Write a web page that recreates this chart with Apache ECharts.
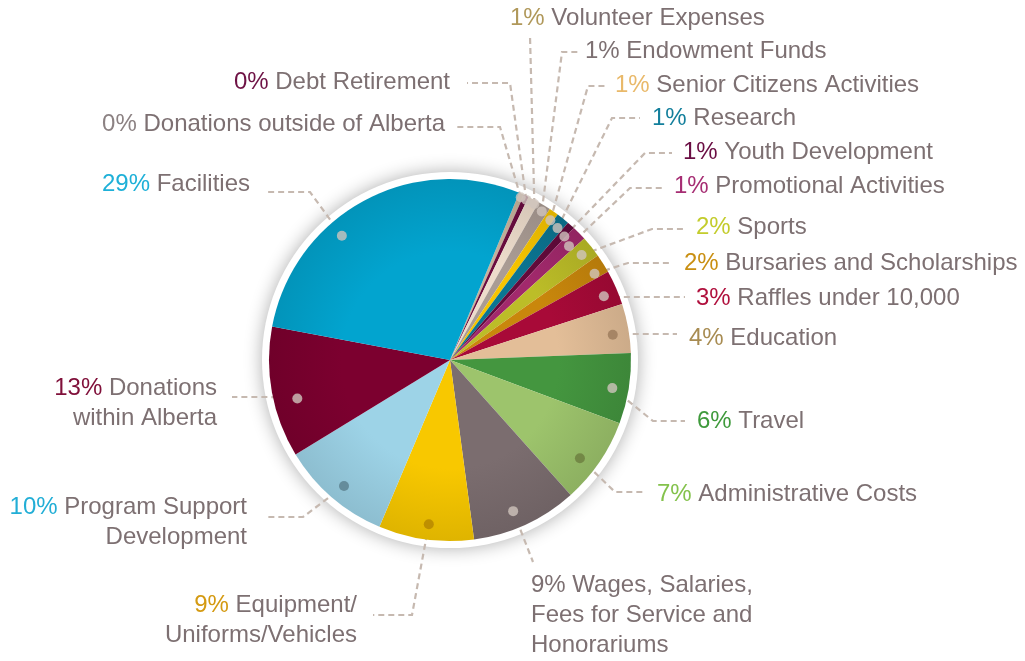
<!DOCTYPE html>
<html>
<head>
<meta charset="utf-8">
<script src="https://cdn.jsdelivr.net/npm/echarts@6/dist/echarts.min.js"></script>
<style>
  html, body { margin: 0; padding: 0; background: #fff; }
  #chart { width: 1025px; height: 661px; }
</style>
</head>
<body>
<div id="chart"></div>
<script>
// slices, clockwise from the top
var categories = [
  'Donations outside of Alberta', 'Debt Retirement', 'Volunteer Expenses', 'Endowment Funds',
  'Senior Citizens Activities', 'Research', 'Youth Development', 'Promotional Activities',
  'Sports', 'Bursaries and Scholarships', 'Raffles under 10,000', 'Education', 'Travel',
  'Administrative Costs', 'Wages, Salaries,\nFees for Service and\nHonorariums',
  'Equipment/\nUniforms/Vehicles', 'Program Support\nDevelopment', 'Donations\nwithin Alberta',
  'Facilities'
];
var values = [0.45, 0.45, 1.0, 1.15, 0.85, 1.15, 0.7, 1.3, 1.9, 1.7, 3.1, 4.4, 6.3, 7.7, 9.5, 8.5, 9.9, 11.7, 28.3];
var pctLabels = ['0%', '0%', '1%', '1%', '1%', '1%', '1%', '1%', '2%', '2%', '3%', '4%', '6%', '7%', '9%', '9%', '10%', '13%', '29%'];

// styling
var sliceColors = ['#c7b39c', '#6b0c3f', '#eddccb', '#aa9c94', '#f6c400', '#0b7592', '#640a3c', '#a2296c',
  '#bcbd28', '#c9870c', '#a80a38', '#e3be98', '#44963f', '#9dc46c', '#7b6d6f', '#f8c800', '#9dd3e7', '#7c002f', '#02a4cf'];
var pctColors = ['#8c8283', '#6e1245', '#b0985a', '#7d7072', '#e9b96a', '#137f9c', '#6a0d43', '#a62d73',
  '#c3cc2c', '#c98f12', '#b0103d', '#a88c52', '#3f9a3c', '#84c24c', '#7d7072', '#d49a12', '#22aed6', '#80103a', '#1eb0d8'];
var dotColors = ['#cfc4bd', '#cfc4bd', '#cfc4bd', '#cfc4bd', '#cfc4bd', '#cfc4bd', '#cfc4bd', '#cfc4bd',
  '#cfc4bd', '#cfc4bd', '#cfc4bd', '#9b7b5b', '#cfc4bd', '#6b7d3e', '#cfc4bd', '#b48400', '#5a7e8c', '#cfc4bd', '#cfc4bd'];

// layout
var cx = 450, cy = 360, R = 181, startAngle = 67.5;
var dotR = [0.98, 0.98, 0.98, 0.965, 0.95, 0.94, 0.93, 0.91, 0.93, 0.93, 0.92, 0.91, 0.91, 0.9, 0.905, 0.915, 0.91, 0.87, 0.91];
var dotAt = [0.62, 0.85, 0.74, 0.57, 0.73, 0.64, 0.84, 0.66, 0.52, 0.73, 0.6, 0.58, 0.53, 0.6, 0.56, 0.49, 0.48, 0.41, 0.376];
var labelPos = [
  [445, 124, 'right'], [450, 82, 'right'], [510, 18, 'left'], [585, 51, 'left'], [615, 85, 'left'],
  [652, 118, 'left'], [683, 152, 'left'], [674, 186, 'left'], [696, 227, 'left'], [684, 263, 'left'],
  [696, 298, 'left'], [689, 338, 'left'], [697, 421, 'left'], [657, 494, 'left'], [531, 615, 'left'],
  [357, 620, 'right'], [247, 522, 'right'], [217, 403, 'right'], [250, 184, 'right']
];
var leaderBend = [
  [500, 127], [510, 83], [530, 36], [562, 52], [588, 86], [612, 118], [645, 153], [630, 188], [652, 229],
  [628, 263], [615, 297], [625, 334], [653, 421], [615, 492], [533, 562], [412, 615], [303, 517], [270, 397], [310, 192]
];
var leaderEnd = [
  [457, 127], [467, 83], [530, 36], [578, 52], [608, 86], [640, 118], [672, 153], [663, 188], [683, 229],
  [672, 263], [685, 297], [677, 334], [685, 421], [645, 492], [533, 562], [373, 615], [265, 517], [232, 397], [267, 192]
];

var textGray = '#7d7072';
var fontFamily = '"Liberation Sans", Arial, sans-serif';
var fontSize = 24;

var total = values.reduce(function (a, b) { return a + b; }, 0);
var cumBefore = [];
values.reduce(function (acc, v, i) { cumBefore[i] = acc; return acc + v; }, 0);

function dotValue(i) {
  return cumBefore[i] + dotAt[i] * values[i];
}
function dotXY(i) {
  var a = (startAngle - dotValue(i) / total * 360) * Math.PI / 180;
  return [cx + dotR[i] * R * Math.cos(a), cy - dotR[i] * R * Math.sin(a)];
}
function shade(hex, f) {
  var n = parseInt(hex.slice(1), 16);
  var r = Math.round(((n >> 16) & 255) * f), g = Math.round(((n >> 8) & 255) * f), b = Math.round((n & 255) * f);
  return 'rgb(' + r + ',' + g + ',' + b + ')';
}

var rich = { n: { color: textGray, fontSize: fontSize, fontFamily: fontFamily, lineHeight: 30 } };
pctColors.forEach(function (c, i) {
  rich['p' + i] = { color: c, fontSize: fontSize, fontFamily: fontFamily, lineHeight: 30 };
});

var pieData = categories.map(function (name, i) {
  return {
    name: name,
    value: values[i],
    itemStyle: {
      color: new echarts.graphic.RadialGradient(cx, cy, R, [
        { offset: 0, color: sliceColors[i] },
        { offset: 0.6, color: sliceColors[i] },
        { offset: 1, color: shade(sliceColors[i], 0.9) }
      ], true)
    }
  };
});

var dotData = values.map(function (v, i) {
  return { value: [dotR[i], dotValue(i)], itemStyle: { color: dotColors[i] } };
});

var chart = echarts.init(document.getElementById('chart'));
chart.setOption({
  backgroundColor: '#fff',
  animation: false,
  polar: { center: [cx, cy], radius: [0, R] },
  angleAxis: { type: 'value', min: 0, max: total, startAngle: startAngle, clockwise: true, show: false },
  radiusAxis: { type: 'value', min: 0, max: 1, show: false },
  series: [
    {
      type: 'pie',
      silent: true,
      center: [cx, cy],
      radius: [0, 188],
      z: 1,
      label: { show: false },
      labelLine: { show: false },
      itemStyle: { color: '#fff', shadowBlur: 18, shadowColor: 'rgba(0,0,0,0.32)' },
      data: [{ value: 1 }]
    },
    {
      type: 'pie',
      silent: true,
      center: [cx, cy],
      radius: [0, R],
      startAngle: startAngle,
      clockwise: true,
      z: 2,
      avoidLabelOverlap: false,
      label: {
        show: true,
        position: 'outside',
        fontFamily: fontFamily,
        fontSize: fontSize,
        color: textGray,
        rich: rich,
        formatter: function (p) {
          var i = p.dataIndex;
          var lines = categories[i].split('\n');
          var out = '{p' + i + '|' + pctLabels[i] + '}{n| ' + lines[0] + '}';
          for (var k = 1; k < lines.length; k++) out += '\n{n|' + lines[k] + '}';
          return out;
        }
      },
      labelLine: {
        show: true,
        length: 10,
        length2: 10,
        lineStyle: { color: '#c6b9b0', width: 2.2, type: [6, 4] }
      },
      labelLayout: function (params) {
        var i = params.dataIndex;
        var p = labelPos[i];
        return {
          x: p[0],
          y: p[1],
          align: p[2],
          verticalAlign: 'middle',
          labelLinePoints: [dotXY(i), leaderBend[i], leaderEnd[i]]
        };
      },
      data: pieData
    },
    {
      type: 'scatter',
      coordinateSystem: 'polar',
      silent: true,
      z: 5,
      symbol: 'circle',
      symbolSize: 10,
      data: dotData
    }
  ]
});
</script>
</body>
</html>
